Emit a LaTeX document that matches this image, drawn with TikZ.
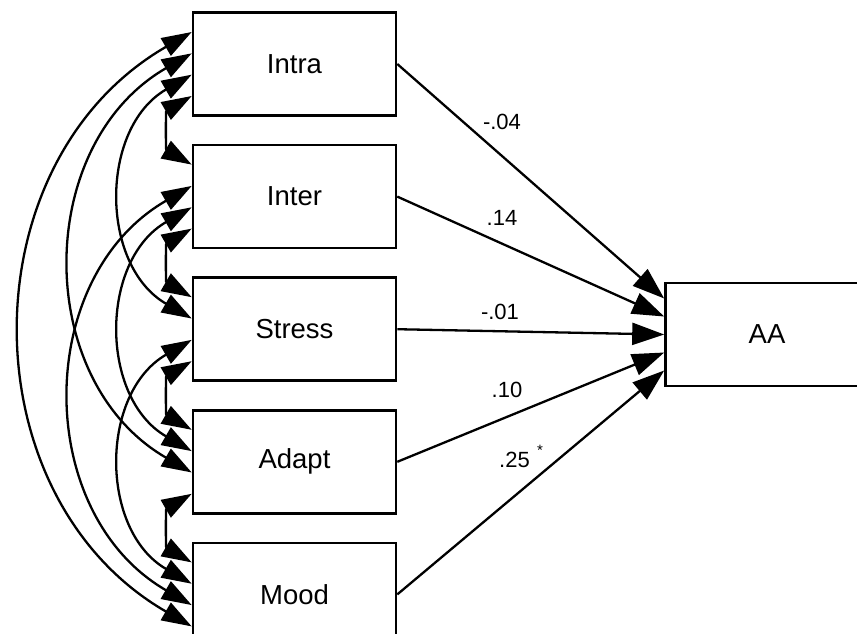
\documentclass[tikz,border=0pt]{standalone}
\usepackage{fontspec}
\setmainfont{Liberation Sans}
\usepackage{tikz}
\usetikzlibrary{positioning,calc,arrows.meta}

\begin{document}
\begin{tikzpicture}[
	x=1pt, y=-1pt,
	% --- box styles ---
	var_box/.style={
		rectangle, draw, line width=2.6pt,
		minimum width=203pt, minimum height=103pt,
		inner sep=0pt, font=\fontsize{27.5}{32}\selectfont
	},
	% regression paths
	path_line/.style={line width=2.3pt, -{Triangle[length=32pt 0 0,width=22pt 0 0]}},
	% covariances between predictors
	cov_line/.style={
		line width=2.3pt,
		{Triangle[length=30pt 0 0,width=20pt 0 0]}-{Triangle[length=30pt 0 0,width=20pt 0 0]},
		bend right=60, looseness=1.12
	},
	coef_label/.style={font=\fontsize{22}{26}\selectfont, inner sep=0pt}
	]
	\useasboundingbox (0,0) rectangle (857,633);
	\clip (0,0) rectangle (857,633);
	
	% predictors
	\node[var_box] (intra) at (294.5,64) {Intra};
	\node[var_box, below=27pt of intra] (inter) {Inter};
	\node[var_box, below=27pt of inter] (stress) {Stress};
	\node[var_box, below=27pt of stress] (adapt) {Adapt};
	\node[var_box, below=27pt of adapt] (mood) {Mood};
	% outcome
	\node[var_box] (aa) at (767,334.5) {AA};
	
	% ports on the left side of each predictor
	\foreach \v in {intra,inter,stress,adapt,mood}{
		\foreach \k/\off in {1/-32,2/-10.67,3/10.67,4/32}
		\coordinate (\v-\k) at ($(\v.west)+(0,\off)$);
	}
	% ports on AA
	\foreach \k/\off in {1/-36,2/-18,3/0,4/18,5/36}
	\coordinate (aa-\k) at ($(aa.west)+(0,\off)$);
	
	% covariances
	\foreach \a/\b/\d in {intra/inter/1, intra/stress/2, intra/adapt/3, intra/mood/4,
		inter/stress/1, inter/adapt/2, inter/mood/3,
		stress/adapt/1, stress/mood/2, adapt/mood/1}{
		\pgfmathtruncatemacro{\p}{5-\d}
		\draw[cov_line] (\a-\p) to (\b-\d);
	}
	
	% paths to AA
	\foreach \v/\k in {intra/1, inter/2, stress/3, adapt/4, mood/5}
	\draw[path_line] (\v.east) -- (aa-\k);
	
	% coefficients
	\node[coef_label] at (502,122) {-.04};
	\node[coef_label] at (502,218) {.14};
	\node[coef_label] at (500,312) {-.01};
	\node[coef_label] at (507,390) {.10};
	\node[coef_label, anchor=base west] at (499,467) {.25\,\,\raisebox{1.0ex}{\fontsize{15}{15}\selectfont *}};
\end{tikzpicture}
\end{document}
